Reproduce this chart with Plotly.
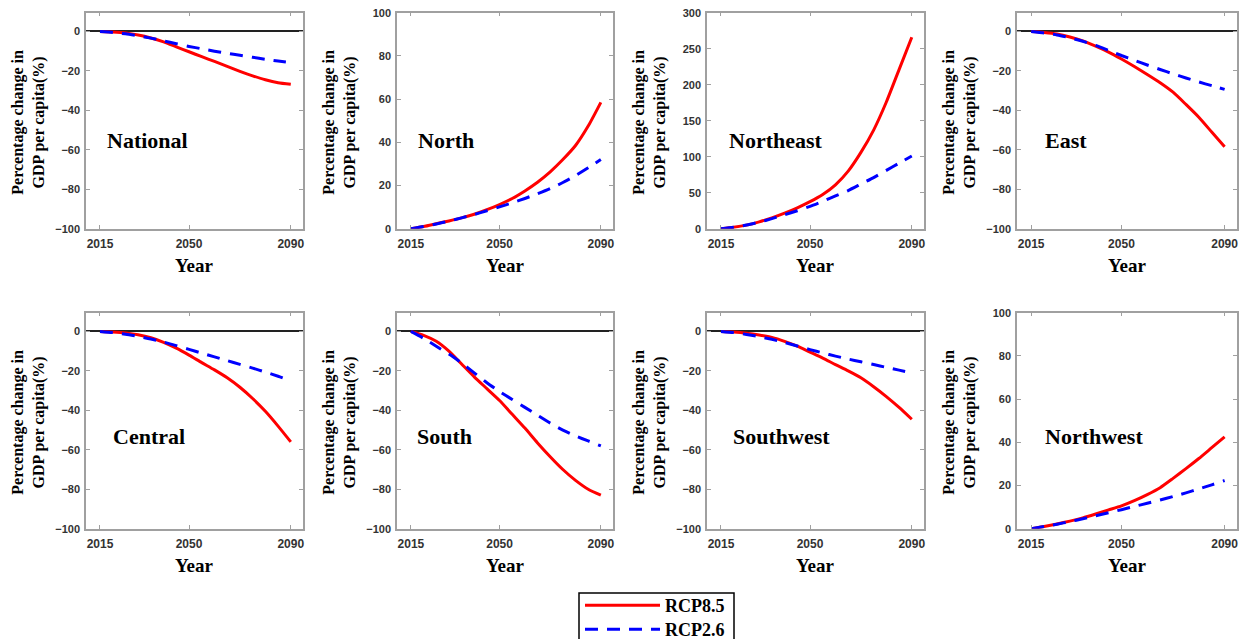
import plotly.graph_objects as go

# ---------------- data ----------------
years = [2015, 2020, 2025, 2030, 2035, 2040, 2045, 2050, 2055, 2060, 2065, 2070, 2075, 2080, 2085, 2090]
regions = ["National", "North", "Northeast", "East", "Central", "South", "Southwest", "Northwest"]

rcp85_national = [0, -0.3, -0.8, -1.8, -3.3, -5.3, -7.8, -10.3, -12.8, -15.2, -17.7, -20.2, -22.5, -24.5, -26.0, -26.8]
rcp26_national = [0, -0.5, -1.2, -2.2, -3.4, -4.8, -6.2, -7.6, -8.8, -10.0, -11.1, -12.1, -13.1, -14.1, -15.0, -15.8]

rcp85_north = [0, 1.0, 2.3, 3.6, 5.0, 6.7, 8.8, 11.2, 14.0, 17.5, 21.5, 26.3, 32.0, 38.5, 47.5, 58.5]
rcp26_north = [0, 1.0, 2.2, 3.5, 5.0, 6.6, 8.3, 10.1, 12.0, 14.0, 16.2, 18.6, 21.4, 24.6, 28.2, 32.0]

rcp85_northeast = [0, 2, 5, 9.5, 15, 21.5, 29, 37.5, 47.5, 61, 80, 106, 137, 176, 221, 266]
rcp26_northeast = [0, 2, 5, 9, 14, 19.5, 25, 31, 38, 45.5, 53, 62, 71, 81, 91, 101]

rcp85_east = [0, -0.5, -1.3, -2.8, -4.8, -7.5, -10.5, -14.0, -17.8, -21.8, -26.0, -30.8, -37.0, -43.5, -51.0, -58.5]
rcp26_east = [0, -0.8, -1.8, -3.2, -5.0, -7.1, -9.6, -12.2, -14.6, -17.0, -19.3, -21.5, -23.6, -25.6, -27.5, -29.4]

rcp85_central = [0, -0.3, -0.8, -1.7, -3.2, -5.5, -8.5, -12.0, -15.8, -19.5, -23.5, -28.3, -34.0, -40.5, -48.0, -56.0]
rcp26_central = [0, -0.6, -1.4, -2.5, -3.8, -5.4, -7.2, -9.1, -11.0, -12.9, -14.8, -16.7, -18.6, -20.6, -22.7, -25.0]

rcp85_south = [0, -2, -5, -10, -16.5, -23, -29, -35, -42, -49, -56.5, -63.5, -70, -75.5, -80, -83]
rcp26_south = [0, -3.5, -7.5, -11.5, -16, -21, -26, -30.5, -34.5, -38.5, -42.5, -46.5, -50, -53, -55.5, -58]

rcp85_southwest = [0, -0.3, -0.9, -1.8, -3.0, -5.0, -7.5, -10.5, -13.5, -16.8, -20.0, -23.5, -28.0, -33.0, -38.5, -44.5]
rcp26_southwest = [0, -0.6, -1.5, -2.6, -4.0, -5.6, -7.4, -9.2, -10.9, -12.5, -14.0, -15.4, -16.8, -18.2, -19.6, -21.0]

rcp85_northwest = [0, 1.0, 2.2, 3.5, 5.0, 6.8, 8.7, 10.6, 13.0, 15.8, 19.0, 23.3, 27.8, 32.5, 37.5, 42.5]
rcp26_northwest = [0, 1.0, 2.1, 3.3, 4.6, 6.0, 7.4, 8.8, 10.3, 11.8, 13.3, 14.9, 16.6, 18.4, 20.3, 22.3]

x_ticks = [2015, 2050, 2090]
neg_ticks = [-100, -80, -60, -40, -20, 0]
pos_ticks = [0, 20, 40, 60, 80, 100]
ne_ticks = [0, 50, 100, 150, 200, 250, 300]

series85 = [rcp85_national, rcp85_north, rcp85_northeast, rcp85_east,
            rcp85_central, rcp85_south, rcp85_southwest, rcp85_northwest]
series26 = [rcp26_national, rcp26_north, rcp26_northeast, rcp26_east,
            rcp26_central, rcp26_south, rcp26_southwest, rcp26_northwest]
yranges = [[-100, 9.5], [0, 100], [0, 300], [-100, 9.5],
           [-100, 9.5], [-100, 9.5], [-100, 9.5], [0, 100]]
ytickss = [neg_ticks, pos_ticks, ne_ticks, neg_ticks, neg_ticks, neg_ticks, neg_ticks, pos_ticks]

# ---------------- layout geometry (pixels) ----------------
W, H = 1245, 639
cols = [(86, 303), (397, 613), (707, 924), (1017, 1237)]
rows = [(12.7, 228.7), (312.7, 528.7)]
label_pos = [(105, 140), (416, 140), (727, 140), (1043, 140),
             (111, 436), (415, 436), (731, 436), (1043, 436)]

fig = go.Figure()
annotations = []
serif = "Liberation Serif"
sans = "Liberation Sans"
frame = "#a0a0a0"

for i in range(8):
    r, c = divmod(i, 4)
    x0, x1 = cols[c]
    y0, y1 = rows[r]
    n = "" if i == 0 else str(i + 1)
    xa = "x" + n
    ya = "y" + n
    fig.add_trace(go.Scatter(x=years, y=series85[i], mode="lines", name="RCP8.5",
                             line=dict(color="#ff0000", width=3, shape="spline", smoothing=0.6),
                             showlegend=(i == 0), legend="legend", xaxis=xa, yaxis=ya))
    fig.add_trace(go.Scatter(x=years, y=series26[i], mode="lines", name="RCP2.6",
                             line=dict(color="#0000ff", width=3, dash="13px,9px",
                                       shape="spline", smoothing=0.6),
                             showlegend=(i == 0), legend="legend2", xaxis=xa, yaxis=ya))
    fig.update_layout(**{
        "xaxis" + n: dict(domain=[x0 / W, x1 / W], anchor=ya, range=[2009.5, 2094.8],
                          tickvals=x_ticks, ticks="inside", ticklen=4, tickcolor=frame,
                          showline=True, linecolor=frame, linewidth=1.5, mirror="ticks",
                          showgrid=False, zeroline=False, ticklabelstandoff=3,
                          tickfont=dict(family=sans, size=12, color="#333333", weight="bold")),
        "yaxis" + n: dict(domain=[1 - y1 / H, 1 - y0 / H], anchor=xa, range=yranges[i],
                          tickvals=ytickss[i], ticks="inside", ticklen=4, tickcolor=frame,
                          showline=True, linecolor=frame, linewidth=1.5, mirror="ticks",
                          showgrid=False, zeroline=True, zerolinecolor="#222222",
                          zerolinewidth=1.5, ticklabelstandoff=2,
                          tickfont=dict(family=sans, size=11, color="#333333", weight="bold")),
    })
    # axis titles
    annotations.append(dict(x=(x0 + x1) / 2 / W, y=1 - (y1 + 37) / H, xref="paper", yref="paper",
                            text="Year", showarrow=False, xanchor="center", yanchor="middle",
                            font=dict(family=serif, size=19, color="black", weight="bold")))
    annotations.append(dict(x=(x0 - 57) / W, y=1 - ((y0 + y1) / 2 + 2) / H, xref="paper", yref="paper",
                            text="Percentage change in<br>GDP per capita(%)", textangle=-90,
                            showarrow=False, xanchor="center", yanchor="middle",
                            font=dict(family=serif, size=16, color="black", weight="bold")))
    lx, ly = label_pos[i]
    annotations.append(dict(x=lx / W, y=1 - ly / H, xref="paper", yref="paper",
                            text=regions[i], showarrow=False, xanchor="left", yanchor="middle",
                            font=dict(family=serif, size=22, color="black", weight="bold")))

legend_style = dict(xanchor="left", yanchor="top", borderwidth=0, bgcolor="rgba(0,0,0,0)",
                    font=dict(family=serif, size=18, color="black", weight="bold"),
                    itemwidth=75)

fig.update_layout(
    width=W, height=H, margin=dict(l=0, r=0, t=0, b=0, autoexpand=False),
    paper_bgcolor="white", plot_bgcolor="white",
    annotations=annotations,
    legend=dict(x=580 / W, y=1 - 587 / H, **legend_style),
    legend2=dict(x=580 / W, y=1 - 611 / H, **legend_style),
    shapes=[dict(type="rect", xref="paper", yref="paper",
                 x0=579 / W, x1=734 / W, y0=1 - 650 / H, y1=1 - 593 / H,
                 line=dict(color="black", width=1.5), fillcolor="rgba(0,0,0,0)")],
)

fig.write_html("out.html", config={"displayModeBar": False},
               post_script="document.body.style.margin='0';document.body.style.overflow='hidden';")
